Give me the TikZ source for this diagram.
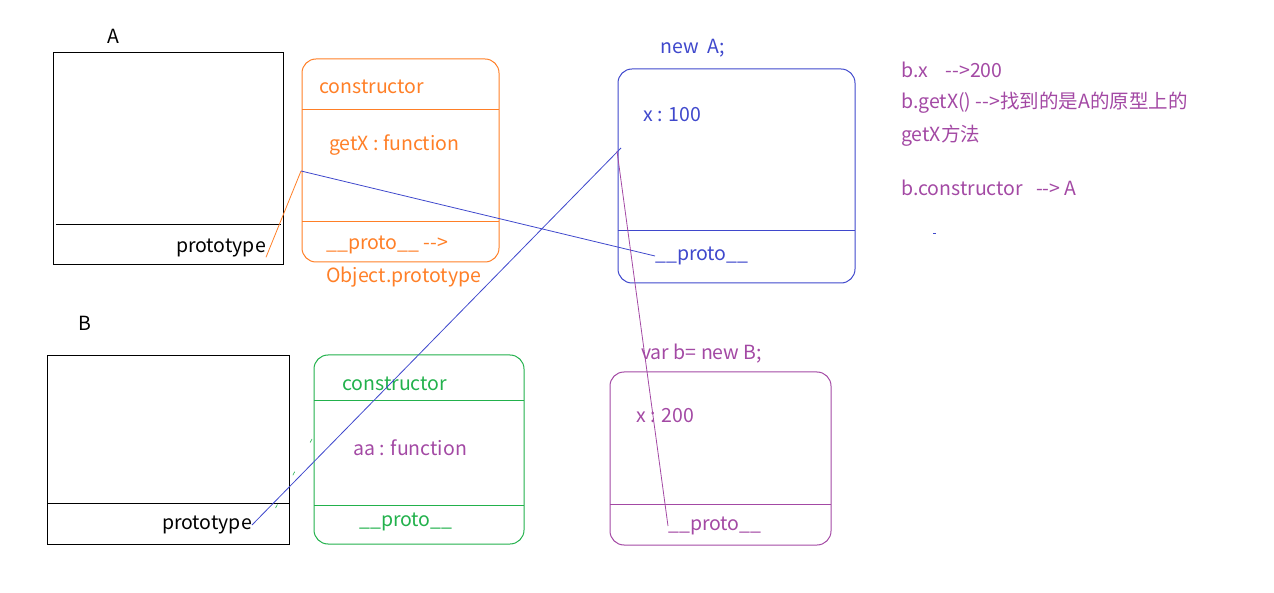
\documentclass[tikz,border=0pt]{standalone}
\usepackage{fontspec}
\setmainfont{Noto Sans CJK SC}
\usetikzlibrary{positioning}
\definecolor{paintorange}{RGB}{255,127,39}
\definecolor{paintblue}{RGB}{63,72,204}
\definecolor{paintpurple}{RGB}{163,73,164}
\definecolor{paintgreen}{RGB}{34,177,76}

\begin{document}
\begin{tikzpicture}[x=1pt, y=-1pt,
    plainbox/.style={rectangle, draw=black, line width=1pt, inner sep=0pt},
    objbox/.style={rectangle, draw, rounded corners=14pt, line width=1pt, inner sep=0pt},
    txt/.style={inner sep=0pt, anchor=west, yshift=-2pt, font=\fontsize{19.5}{22}\selectfont},
    link/.style={line width=0.8pt}
]
\useasboundingbox (0,0) rectangle (1274,593);

% constructor A and its prototype object
\node[txt, text=black] (nameA) at (107,34) {A};
\node[plainbox, minimum width=230pt, minimum height=212pt] (ctorA) at (168,159) {};
\draw[line width=1pt] (56,225) -- (281,225);
\node[txt, anchor=east] (protoA) at (266,246) {prototype};

\node[objbox, draw=paintorange, minimum width=197pt, minimum height=203pt] (objA) at (400.5,160.5) {};
\draw[paintorange, line width=1pt] (302,110) -- (499,110);
\draw[paintorange, line width=1pt] (302,222) -- (499,222);
\node[txt, text=paintorange] (ctorfieldA) at (319,85) {constructor};
\node[txt, text=paintorange] (getxA) at (329,143) {getX : function};
\node[txt, text=paintorange] (protofieldA) at (326,243) {\_\_proto\_\_ -{}->};
\node[txt, text=paintorange] (objproto) at (326,275) {Object.prototype};

% instance of A
\node[txt, text=paintblue] (newA) at (660,46) {new\ \ A;};
\node[objbox, draw=paintblue, minimum width=237pt, minimum height=214pt] (instA) at (736.5,176) {};
\draw[paintblue, line width=1pt] (618,231) -- (855,231);
\node[txt, text=paintblue] (xA) at (643,113) {x : 100};
\node[txt, text=paintblue] (protoInstA) at (655,254) {\_\_proto\_\_};

% constructor B and its prototype object
\node[txt, text=black] (nameB) at (78,321) {B};
\node[plainbox, minimum width=242pt, minimum height=188pt] (ctorB) at (168,450) {};
\draw[line width=1pt] (47,503) -- (289,503);
\node[txt, anchor=east] (protoB) at (252,523) {prototype};

\node[objbox, draw=paintgreen, minimum width=210pt, minimum height=189pt] (objB) at (419,449.5) {};
\draw[paintgreen, line width=1pt] (314,400) -- (524,400);
\draw[paintgreen, line width=1pt] (314,505) -- (524,505);
\node[txt, text=paintgreen] (ctorfieldB) at (342,382) {constructor};
\node[txt, text=paintpurple] (aaB) at (353,446) {aa : function};
\node[txt, text=paintgreen] (protofieldB) at (359,520) {\_\_proto\_\_};

% instance b
\node[txt, text=paintpurple] (newB) at (641,352) {var b= new B;};
\node[objbox, draw=paintpurple, minimum width=221pt, minimum height=173pt] (instB) at (720.5,458.5) {};
\draw[paintpurple, line width=1pt] (610,504) -- (831,504);
\node[txt, text=paintpurple] (xB) at (636,414) {x : 200};
\node[txt, text=paintpurple] (protoInstB) at (668,524) {\_\_proto\_\_};

% notes
\node[txt, text=paintpurple] (noteX) at (901,68) {b.x\ \ \ \ -{}->200};
\node[txt, text=paintpurple] (noteGet) at (901,101) {b.getX() -{}->找到的是A的原型上的};
\node[txt, text=paintpurple] (noteGet2) at (901,134) {getX方法};
\node[txt, text=paintpurple] (noteCtor) at (901,186) {b.constructor\ \ \ -{}->\ A};
\draw[paintblue, line width=0.8pt] (933,233) -- (936,233);

% links
\coordinate (aIn) at (301,171);
\coordinate (instAIn) at (621,148);
\coordinate (instAOut) at (617,151);
\draw[paintorange, link] (protoA.south east) -- (aIn);
\draw[paintblue, link] (aIn) -- (protoInstA.west);
\draw[paintblue, link] (protoB.east) -- (instAIn);
\draw[paintpurple, link] (instAOut) -- (protoInstB.west);
\draw[paintgreen, line width=0.6pt, dash pattern=on 4pt off 33pt] (312,439) -- (275,509);
\end{tikzpicture}
\end{document}
